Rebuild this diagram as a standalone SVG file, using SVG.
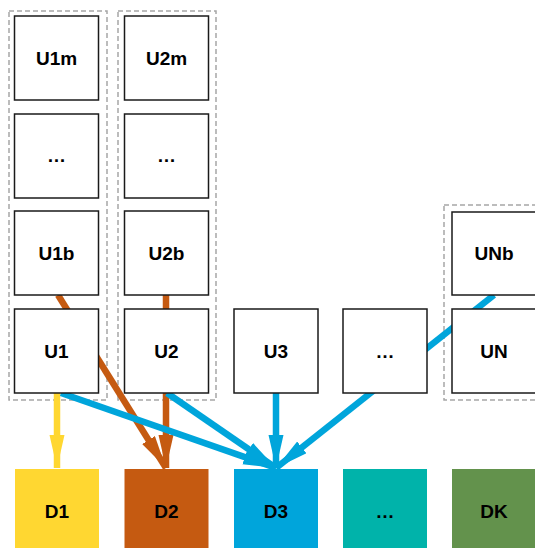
<svg xmlns="http://www.w3.org/2000/svg" width="535" height="548" viewBox="0 0 535 548">
<style>
.grp{fill:none;stroke:#A6A6A6;stroke-width:1.5;stroke-dasharray:5,3}
.node rect{fill:#fff;stroke:#1a1a1a;stroke-width:1.5}
.dst rect{stroke:none}
#D1 rect{fill:#FFD731}
#D2 rect{fill:#C55A11}
#D3 rect{fill:#00A5DB}
#Ddots rect{fill:#00B3AA}
#DK rect{fill:#63924C}
text{font-family:"Liberation Sans",Arial,sans-serif;font-weight:bold;font-size:19px;text-anchor:middle;fill:#000}
.c{fill:none;stroke-width:6.5}
</style>
<defs>
<marker id="ay" markerUnits="userSpaceOnUse" markerWidth="34" markerHeight="16" refX="33" refY="7.5" orient="auto"><path d="M0,0 L33,7.5 L0,15 z" fill="#FFD731"/></marker>
<marker id="ab" markerUnits="userSpaceOnUse" markerWidth="34" markerHeight="16" refX="33" refY="7.5" orient="auto"><path d="M0,0 L33,7.5 L0,15 z" fill="#C55A11"/></marker>
<marker id="ac" markerUnits="userSpaceOnUse" markerWidth="34" markerHeight="16" refX="33" refY="7.5" orient="auto"><path d="M0,0 L33,7.5 L0,15 z" fill="#00A5DB"/></marker>
</defs>
<g id="groups">
<rect class="grp" x="9" y="11" width="98" height="389"/>
<rect class="grp" x="118" y="11" width="98" height="389"/>
<rect class="grp" x="444" y="205" width="100" height="195"/>
</g>
<g id="connectors">
<line class="c" x1="57" y1="393" x2="57" y2="468" stroke="#FFD731" marker-end="url(#ay)"/>
<line class="c" x1="58" y1="295" x2="166" y2="468" stroke="#C55A11" marker-end="url(#ab)"/>
<line class="c" x1="166" y1="295" x2="166" y2="468" stroke="#C55A11" marker-end="url(#ab)"/>
<line class="c" x1="61" y1="393" x2="276" y2="468" stroke="#00A5DB" marker-end="url(#ac)"/>
<line class="c" x1="167" y1="393" x2="276" y2="468" stroke="#00A5DB" marker-end="url(#ac)"/>
<line class="c" x1="276" y1="393" x2="276" y2="468" stroke="#00A5DB" marker-end="url(#ac)"/>
<line class="c" x1="494" y1="295" x2="276" y2="468" stroke="#00A5DB" marker-end="url(#ac)"/>
</g>
<g id="U1m" class="node"><rect x="14.5" y="16" width="84" height="84"/><text x="56.5" y="65">U1m</text></g>
<g id="U1dots" class="node"><rect x="14.5" y="114" width="84" height="84"/><text x="56.5" y="162">…</text></g>
<g id="U1b" class="node"><rect x="14.5" y="211" width="84" height="84"/><text x="56.5" y="260">U1b</text></g>
<g id="U1" class="node"><rect x="14.5" y="309" width="84" height="84"/><text x="56.5" y="358">U1</text></g>
<g id="U2m" class="node"><rect x="124.5" y="16" width="84" height="84"/><text x="166.5" y="65">U2m</text></g>
<g id="U2dots" class="node"><rect x="124.5" y="114" width="84" height="84"/><text x="166.5" y="162">…</text></g>
<g id="U2b" class="node"><rect x="124.5" y="211" width="84" height="84"/><text x="166.5" y="260">U2b</text></g>
<g id="U2" class="node"><rect x="124.5" y="309" width="84" height="84"/><text x="166.5" y="358">U2</text></g>
<g id="U3" class="node"><rect x="234" y="309" width="84" height="84"/><text x="276" y="358">U3</text></g>
<g id="Udots" class="node"><rect x="343" y="309" width="84" height="84"/><text x="385" y="358">…</text></g>
<g id="UNb" class="node"><rect x="452" y="212" width="84" height="83"/><text x="494" y="260">UNb</text></g>
<g id="UN" class="node"><rect x="452" y="309" width="84" height="84"/><text x="494" y="358">UN</text></g>
<g id="D1" class="node dst"><rect x="15" y="469" width="84" height="80"/><text x="57" y="518">D1</text></g>
<g id="D2" class="node dst"><rect x="124.5" y="469" width="84" height="80"/><text x="166.5" y="518">D2</text></g>
<g id="D3" class="node dst"><rect x="234" y="469" width="84" height="80"/><text x="276" y="518">D3</text></g>
<g id="Ddots" class="node dst"><rect x="343" y="469" width="84" height="80"/><text x="385" y="518">…</text></g>
<g id="DK" class="node dst"><rect x="452" y="469" width="84" height="80"/><text x="494" y="518">DK</text></g>
</svg>
